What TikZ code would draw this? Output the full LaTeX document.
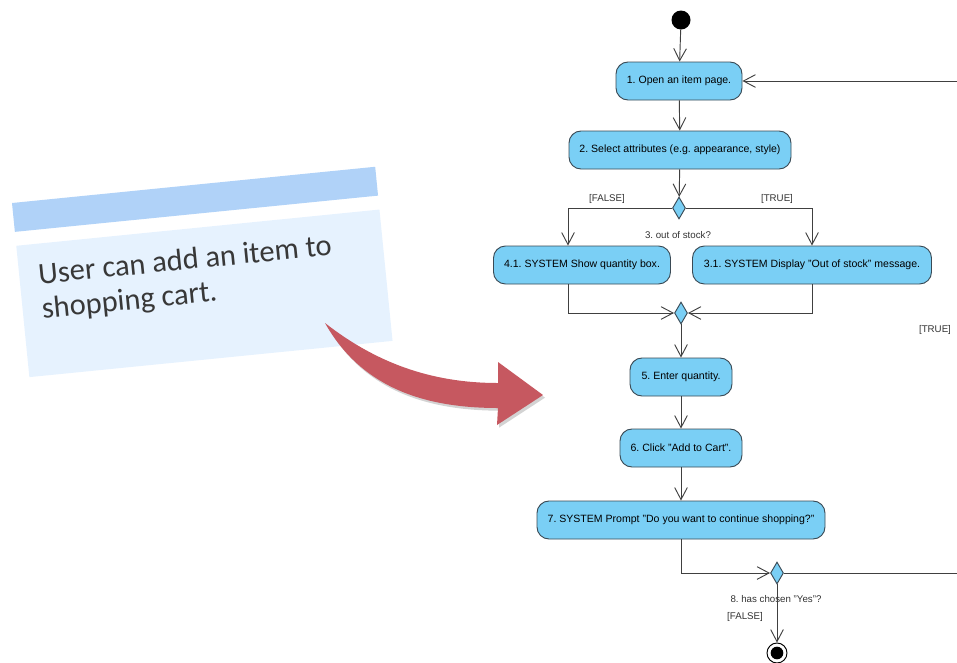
\documentclass[tikz,border=0pt]{standalone}
\usepackage{fontspec}
\setmainfont{Liberation Sans}
\newfontfamily\cardfont{Carlito}
\usetikzlibrary{shapes}
\usetikzlibrary{shapes.geometric}
\usetikzlibrary{positioning}
\usetikzlibrary{arrows.meta}
\usetikzlibrary{shadows}
\definecolor{actfill}{HTML}{7ACFF5}
\definecolor{actline}{HTML}{3A4A55}
\definecolor{cardhead}{HTML}{B0D2F8}
\definecolor{cardbody}{HTML}{E6F2FE}
\definecolor{cardtext}{HTML}{383838}
\definecolor{bigred}{HTML}{C65860}
\tikzset{
    actnode/.style = {rectangle, rounded corners=0.36cm, draw=actline, thick, fill=actfill, align=center, minimum height=1.14cm, inner sep=1pt, font=\fontsize{9}{10}\selectfont, text=black},
    decnode/.style = {diamond, draw=actline, thick, fill=actfill, minimum width=0.39cm, minimum height=0.66cm, inner sep=0pt},
    startnode/.style = {circle, fill=black, minimum size=0.57cm, inner sep=0pt},
    endnode/.style = {circle, draw=black, thick, fill=white, minimum size=0.6cm, inner sep=0pt},
    endcore/.style = {circle, fill=black, minimum size=0.38cm, inner sep=0pt},
    guardlbl/.style = {font=\fontsize{8.3}{9}\selectfont, text=black!80, inner sep=0pt},
    edgef/.style = {-{Straight Barb[length=3.6mm,width=3.8mm]}, thick, black!75}, % flow
    edgep/.style = {-, thick, black!75}, % plain
}
\frenchspacing

\begin{document}
\begin{tikzpicture}[x=0.03cm, y=-0.03cm]
\path[use as bounding box] (0,0) rectangle (957,662);
% note card
\begin{scope}[shift={(12,203)}, rotate=5.7]
\fill[cardhead] (0,0) rectangle (365,29);
\fill[cardbody] (0,43) rectangle (365,175);
\node[anchor=base west, align=left, transform shape, inner sep=0pt, font=\cardfont\fontsize{26}{29.5}\selectfont, text=cardtext] at (19,118) (story) {User can add an item to\\shopping cart.};
\end{scope}
% big arrow
\fill[bigred, drop shadow={opacity=0.35, shadow xshift=0.6mm, shadow yshift=-0.8mm}]
    (325,323) .. controls (375,362) and (430,383) .. (498,383)
    -- (498,362) -- (543,395) -- (497,425) -- (498,408)
    .. controls (420,408) and (360,385) .. (325,323) -- cycle;
% activities
\node[startnode] at (681,20) (init) {};
\node[actnode, minimum width=3.78cm] at (679,81) (a1) {1. Open an item page.};
\node[actnode, minimum width=6.66cm] at (680,150) (a2) {2. Select attributes (e.g. appearance, style)};
\node[decnode] at (679,208) (d3) {};
\node[actnode, minimum width=5.31cm] at (582,265) (a41) {4.1. SYSTEM Show quantity box.};
\node[actnode, minimum width=7.17cm] at (812,265) (a31) {3.1. SYSTEM Display "Out of stock" message.};
\node[decnode] at (681,313) (m4) {};
\node[actnode, minimum width=3.06cm] at (681,377) (a5) {5. Enter quantity.};
\node[actnode, minimum width=3.66cm] at (681,448) (a6) {6. Click "Add to Cart".};
\node[actnode, minimum width=8.64cm] at (681,520) (a7) {7. SYSTEM Prompt "Do you want to continue shopping?"};
\node[decnode] at (777,573) (d8) {};
\node[endnode] at (777,653) (fin) {};
\node[endcore] at (fin) (fincore) {};
\coordinate (xl) at (568,0);
\coordinate (loop) at (966,573);
% labels
\node[guardlbl] at (607,199) (gf3) {[FALSE]};
\node[guardlbl] at (777,199) (gt3) {[TRUE]};
\node[guardlbl] at (678,235) (q3) {3. out of stock?};
\node[guardlbl] at (935,330) (gt8) {[TRUE]};
\node[guardlbl] at (776,599) (q8) {8. has chosen "Yes"?};
\node[guardlbl, anchor=west] at (727,617) (gf8) {[FALSE]};
%
\draw[edgef] (init) -- (a1);
\draw[edgef] (a1) -- (a2);
\draw[edgef] (a2) -- (d3);
\draw[edgef] (d3.west) -| (a41.north -| xl);
\draw[edgef] (d3.east) -| (a31.north);
\draw[edgef] (a41.south -| xl) |- (m4.west);
\draw[edgef] (a31.south) |- (m4.east);
\draw[edgef] (m4) -- (a5);
\draw[edgef] (a5) -- (a6);
\draw[edgef] (a6) -- (a7);
\draw[edgef] (a7.south) |- (d8.west);
\draw[edgef] (d8) -- (fin);
\draw[edgef] (d8.east) -- (loop) |- (a1.east);
\end{tikzpicture}
\end{document}
